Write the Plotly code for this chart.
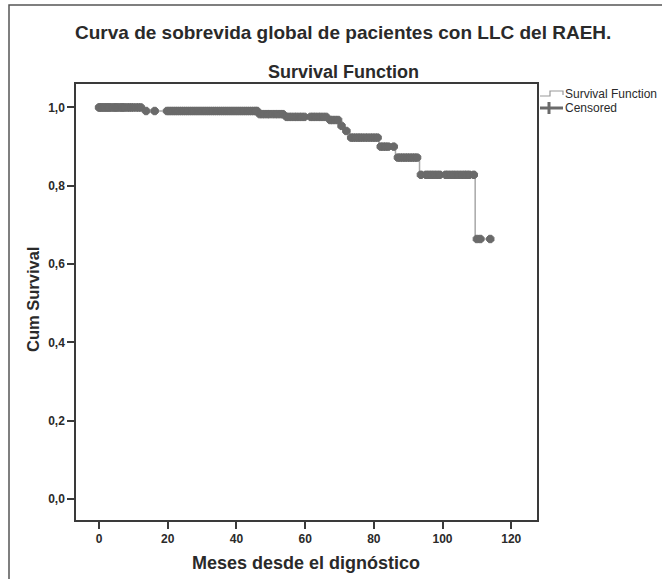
import plotly.graph_objects as go

# ---------------- data ----------------
event_times = [13.0, 46.4, 54.0, 66.8, 70.2, 71.4, 73.0, 81.5, 86.3, 93.3, 109.5]
event_surv = [0.991, 0.983, 0.976, 0.968, 0.953, 0.940, 0.923, 0.900, 0.872, 0.828, 0.664]
end_time = 113.9

censored_times = [
    0.0, 0.3, 0.8, 1.2, 1.7, 2.1, 2.6, 3.0, 3.5, 4.1, 4.6, 5.0, 5.5, 6.1, 6.6, 7.0, 7.5,
    8.2, 8.8, 9.4, 10.0, 10.8, 11.5, 12.2,
    13.7, 16.2,
    19.8, 20.4, 21.0, 21.6, 22.2, 22.8, 23.4, 24.0, 24.6, 25.2, 25.8, 26.4, 27.0, 27.6,
    28.2, 28.8, 29.4, 30.0, 30.6, 31.2, 31.8, 32.4, 33.0, 33.6, 34.2, 34.8, 35.4, 36.0,
    36.6, 37.2, 37.8, 38.4, 39.0, 39.6, 40.2, 40.8, 41.4, 42.0, 42.6, 43.2, 43.8, 44.4,
    45.0, 45.6, 46.0,
    46.8, 47.5, 48.2, 49.0, 49.6, 50.5, 51.3, 52.0, 52.8, 53.5,
    54.6, 55.3, 56.0, 56.8, 57.5, 58.3, 59.0, 59.8,
    61.6, 62.3, 63.0, 63.8, 64.5, 65.3, 66.1,
    67.3, 68.0, 68.8, 69.6,
    70.6,
    72.0,
    73.4, 74.0, 74.7, 75.4, 76.0, 76.7, 77.5, 78.2, 79.0, 79.7, 80.4, 81.1,
    82.0, 82.7, 83.4, 84.2, 85.8,
    87.0, 87.7, 88.4, 89.1, 89.8, 90.5, 91.2, 91.9, 92.6,
    93.7, 95.2, 96.0, 96.8, 97.6, 98.4, 99.2,
    100.9, 101.6, 102.4, 103.2, 104.0, 104.8, 105.6, 106.4, 107.1, 107.8, 109.1,
    110.0, 111.0, 113.9,
]

x_tick_vals = [0, 20, 40, 60, 80, 100, 120]
y_tick_vals = [0.0, 0.2, 0.4, 0.6, 0.8, 1.0]
y_tick_text = ["0,0", "0,2", "0,4", "0,6", "0,8", "1,0"]

main_title = "Curva de sobrevida global de pacientes con LLC del RAEH."
sub_title = "Survival Function"
x_title = "Meses desde el dignóstico"
y_title = "Cum Survival"
legend_labels = ["Survival Function", "Censored"]


def surv_at(t):
    s = 1.0
    for et, es in zip(event_times, event_surv):
        if et <= t:
            s = es
    return s


step_x = [0.0] + event_times + [end_time]
step_y = [1.0] + event_surv + [event_surv[-1]]
cens_y = [surv_at(t) for t in censored_times]

# ---------------- layout geometry (pixels) ----------------
W, H = 662, 579
L, R, T, B = 76, 537, 84, 520
PW, PH = R - L, B - T


def px(x):
    return (x - L) / PW


def py(y):
    return (B - y) / PH


FONT = "Liberation Sans, Arial, sans-serif"
DARK = "#2a2a2a"
MARK = "#6a6a6a"
LINE = "#a8a8a8"

fig = go.Figure()
fig.add_trace(go.Scatter(
    x=step_x, y=step_y, mode="lines", line=dict(color=LINE, width=1.5, shape="hv"),
    name=legend_labels[0], showlegend=False, hoverinfo="skip"))
fig.add_trace(go.Scatter(
    x=censored_times, y=cens_y, mode="markers",
    marker=dict(symbol="octagon", size=8, color=MARK, line=dict(color=MARK, width=1)),
    name=legend_labels[1], showlegend=False))

axis_common = dict(
    showgrid=False, zeroline=False, showline=True, linecolor="#3a3a3a", linewidth=1.5,
    mirror=True, ticks="outside", tickcolor="#3a3a3a", tickwidth=1.5, ticklen=7,
    tickfont=dict(family=FONT, size=12, color=DARK, weight="bold"),
)

fig.update_layout(
    width=W, height=H,
    margin=dict(l=L, r=W - R, t=T, b=H - B),
    paper_bgcolor="white", plot_bgcolor="white",
    xaxis=dict(range=[-6.7, 127.5], tickvals=x_tick_vals, **axis_common),
    yaxis=dict(range=[-0.054, 1.060], tickvals=y_tick_vals, ticktext=y_tick_text, **axis_common),
    showlegend=False,
)

# outer frame
fig.add_shape(type="rect", xref="paper", yref="paper",
              x0=px(9), x1=px(W + 20), y0=py(H + 20), y1=py(5),
              line=dict(color="#555", width=1.5), layer="below")

# titles
fig.add_annotation(text=main_title, xref="paper", yref="paper", x=px(343), y=py(33),
                   showarrow=False, xanchor="center", yanchor="middle",
                   font=dict(family=FONT, size=19, color=DARK, weight="bold"))
fig.add_annotation(text=sub_title, xref="paper", yref="paper", x=px(343), y=py(72),
                   showarrow=False, xanchor="center", yanchor="middle",
                   font=dict(family=FONT, size=18, color=DARK, weight="bold"))
fig.add_annotation(text=x_title, xref="paper", yref="paper", x=px(306), y=py(563),
                   showarrow=False, xanchor="center", yanchor="middle",
                   font=dict(family=FONT, size=18, color=DARK, weight="bold"))
fig.add_annotation(text=y_title, xref="paper", yref="paper", x=px(33), y=py(300),
                   showarrow=False, xanchor="center", yanchor="middle", textangle=-90,
                   font=dict(family=FONT, size=16.5, color=DARK, weight="bold"))

# custom legend
fig.add_shape(type="path", xref="paper", yref="paper",
              path=f"M {px(540)} {py(96)} L {px(550)} {py(96)} L {px(550)} {py(91)} "
                   f"L {px(563)} {py(91)} L {px(563)} {py(95)}",
              line=dict(color="#999", width=1.2))
fig.add_shape(type="line", xref="paper", yref="paper",
              x0=px(540), x1=px(563), y0=py(108), y1=py(108),
              line=dict(color="#6a6a6a", width=3))
fig.add_shape(type="line", xref="paper", yref="paper",
              x0=px(549), x1=px(549), y0=py(102), y1=py(114),
              line=dict(color="#6a6a6a", width=3))
fig.add_annotation(text=legend_labels[0], xref="paper", yref="paper", x=px(563), y=py(94),
                   showarrow=False, xanchor="left", yanchor="middle",
                   font=dict(family=FONT, size=12, color=DARK))
fig.add_annotation(text=legend_labels[1], xref="paper", yref="paper", x=px(563), y=py(108),
                   showarrow=False, xanchor="left", yanchor="middle",
                   font=dict(family=FONT, size=12, color=DARK))

fig.write_html("out.html", config={"displayModeBar": False},
               post_script="document.body.style.margin='0';document.body.style.overflow='hidden';")
